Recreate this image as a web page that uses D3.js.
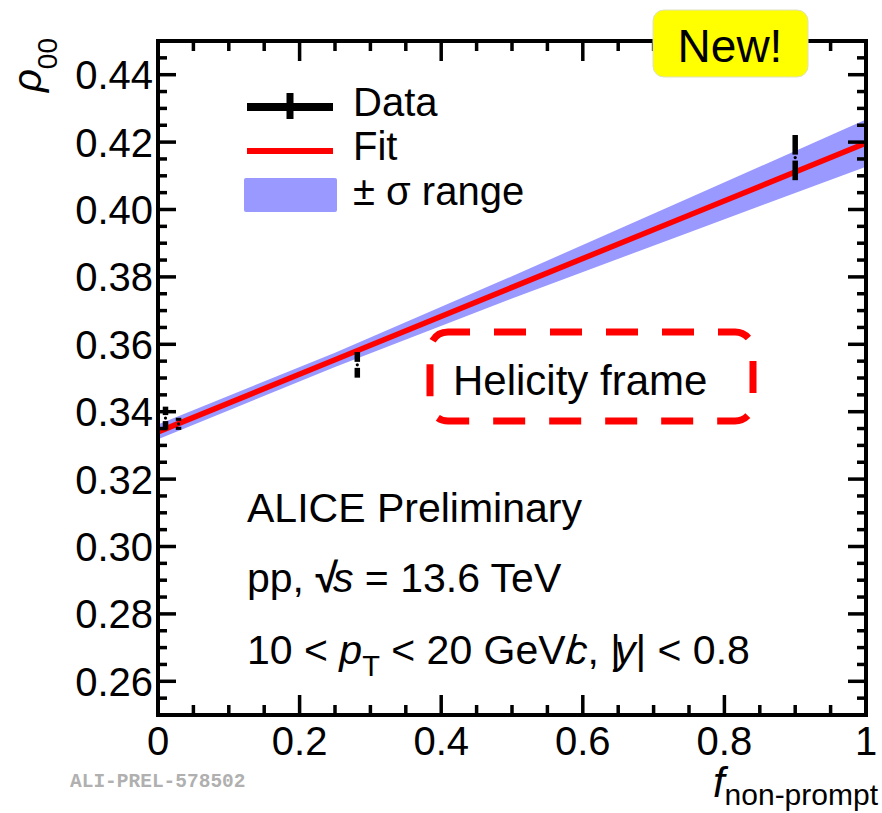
<!DOCTYPE html>
<html lang="en">
<head>
<meta charset="UTF-8">
<title>rho00 vs f non-prompt</title>
<script src="https://d3js.org/d3.v7.min.js"></script>
<style>
  body { margin: 0; background: #fff; }
  text { font-family: "Liberation Sans", Arial, sans-serif; fill: #000; }
</style>
</head>
<body>
<div id="chart"></div>
<script>
// data points (f_non-prompt, rho00, stat. error)
var fVals   = [0.0106, 0.029, 0.2815, 0.900];
var rhoVals = [0.3381, 0.3364, 0.3539, 0.4154];
var rhoErr  = [0.0034, 0.0018, 0.0038, 0.0067];

// fit line and +- sigma band, read at a few f values
var bandF  = [0, 0.25, 0.5, 0.75, 1];
var fitY   = [0.3340, 0.3554, 0.3769, 0.3983, 0.4197];
var bandLo = [0.3318, 0.3533, 0.3736, 0.3932, 0.4127];
var bandHi = [0.3362, 0.3575, 0.3802, 0.4034, 0.4267];

// tick labels
var xTicks = [0, 0.2, 0.4, 0.6, 0.8, 1];
var yTicks = [0.26, 0.28, 0.30, 0.32, 0.34, 0.36, 0.38, 0.40, 0.42, 0.44];

var W = 882, H = 813;
var margin = {top: 41, right: 16, bottom: 98, left: 158};
var width = W - margin.left - margin.right,
    height = H - margin.top - margin.bottom;

var svg = d3.select("#chart").append("svg")
    .attr("width", W).attr("height", H);
svg.append("rect").attr("width", W).attr("height", H).attr("fill", "#fff");

var g = svg.append("g")
    .attr("transform", "translate(" + margin.left + "," + margin.top + ")");

var x = d3.scaleLinear().domain([0, 1]).range([0, width]);
var y = d3.scaleLinear().domain([0.25, 0.45]).range([height, 0]);

// clip to frame
g.append("clipPath").attr("id", "clip")
  .append("rect").attr("x", -3).attr("y", 0).attr("width", width + 3).attr("height", height);

var band = bandF.map(function(d, i) { return {f: d, lo: bandLo[i], hi: bandHi[i], c: fitY[i]}; });

var plot = g.append("g").attr("clip-path", "url(#clip)");
plot.append("path")
  .datum(band)
  .attr("fill", "#9999ff")
  .attr("d", d3.area()
    .x(function(d) { return x(d.f); })
    .y0(function(d) { return y(d.lo); })
    .y1(function(d) { return y(d.hi); }));

plot.append("path")
  .datum(band)
  .attr("fill", "none")
  .attr("stroke", "#ff0000")
  .attr("stroke-width", 5.5)
  .attr("d", d3.line()
    .x(function(d) { return x(d.f); })
    .y(function(d) { return y(d.c); }));

// data points: vertical error bars with a gap around the marker
var pts = fVals.map(function(d, i) { return {f: d, v: rhoVals[i], e: rhoErr[i]}; });
var pg = g.append("g").selectAll("g").data(pts).enter().append("g");
pg.append("line")
  .attr("x1", function(d) { return x(d.f); }).attr("x2", function(d) { return x(d.f); })
  .attr("y1", function(d) { return y(d.v + d.e); }).attr("y2", function(d) { return y(d.v) - 3; })
  .attr("stroke", "#000").attr("stroke-width", 5.5);
pg.append("line")
  .attr("x1", function(d) { return x(d.f); }).attr("x2", function(d) { return x(d.f); })
  .attr("y1", function(d) { return y(d.v) + 3; }).attr("y2", function(d) { return y(d.v - d.e); })
  .attr("stroke", "#000").attr("stroke-width", 5.5);
pg.append("circle")
  .attr("cx", function(d) { return x(d.f); }).attr("cy", function(d) { return y(d.v); })
  .attr("r", 1.6).attr("fill", "#000");

// axes: ticks inside, mirrored on top and right
var xMinor = d3.range(0, 1.0001, 0.05), yMinor = d3.range(0.25, 0.4501, 0.005);
function isMajor(v, step) { return Math.abs(v / step - Math.round(v / step)) < 1e-6; }

var ticks = g.append("g").attr("stroke", "#000").attr("stroke-width", 3.5);
xMinor.forEach(function(v) {
  var len = isMajor(v, 0.2) ? 20 : 10;
  ticks.append("line").attr("x1", x(v)).attr("x2", x(v)).attr("y1", height).attr("y2", height - len);
  ticks.append("line").attr("x1", x(v)).attr("x2", x(v)).attr("y1", 0).attr("y2", len);
});
yMinor.forEach(function(v) {
  var len = isMajor(v, 0.02) ? 18 : 9;
  ticks.append("line").attr("y1", y(v)).attr("y2", y(v)).attr("x1", 0).attr("x2", len);
  ticks.append("line").attr("y1", y(v)).attr("y2", y(v)).attr("x1", width).attr("x2", width - len);
});

g.append("rect")
  .attr("width", width).attr("height", height)
  .attr("fill", "none").attr("stroke", "#000").attr("stroke-width", 4);

g.selectAll(".xl").data(xTicks).enter().append("text")
  .attr("x", function(d) { return x(d); })
  .attr("y", height + 40)
  .attr("text-anchor", "middle")
  .style("font-size", "40px")
  .text(function(d) { return d === 0 ? "0" : d === 1 ? "1" : d3.format(".1f")(d); });

g.selectAll(".yl").data(yTicks).enter().append("text")
  .attr("x", -5)
  .attr("y", function(d) { return y(d) + 14.5; })
  .attr("text-anchor", "end")
  .style("font-size", "40px")
  .text(function(d) { return d3.format(".2f")(d); });

// axis titles
var yt = svg.append("text")
  .attr("transform", "translate(41,38) rotate(-90)")
  .attr("text-anchor", "end")
  .style("font-size", "40px");
yt.append("tspan").style("font-style", "italic").text("\u03c1");
yt.append("tspan").attr("dy", 16).style("font-size", "28px").text("00");

var xt = svg.append("text")
  .attr("x", 878).attr("y", 797)
  .attr("text-anchor", "end")
  .style("font-size", "42px");
xt.append("tspan").style("font-style", "italic").text("f");
xt.append("tspan").attr("dy", 8).style("font-size", "30px").text("non-prompt");

// legend
var lg = svg.append("g");
lg.append("line").attr("x1", 247).attr("x2", 333).attr("y1", 107).attr("y2", 107)
  .attr("stroke", "#000").attr("stroke-width", 8);
lg.append("line").attr("x1", 290).attr("x2", 290).attr("y1", 93).attr("y2", 119)
  .attr("stroke", "#000").attr("stroke-width", 7);
lg.append("line").attr("x1", 247).attr("x2", 333).attr("y1", 151).attr("y2", 151)
  .attr("stroke", "#ff0000").attr("stroke-width", 6);
lg.append("rect").attr("x", 244).attr("y", 178).attr("width", 93).attr("height", 34)
  .attr("rx", 2).attr("fill", "#9999ff");
lg.append("text").attr("x", 353).attr("y", 116).style("font-size", "40px").text("Data");
lg.append("text").attr("x", 353).attr("y", 160).style("font-size", "40px").text("Fit");
lg.append("text").attr("x", 353).attr("y", 205).style("font-size", "40px").text("\u00b1 \u03c3 range");

// helicity frame box
svg.append("rect")
  .attr("x", 430).attr("y", 332).attr("width", 323).attr("height", 89)
  .attr("rx", 18)
  .attr("fill", "none").attr("stroke", "#ff0000").attr("stroke-width", 7)
  .attr("stroke-dasharray", "32,24").attr("stroke-dashoffset", 10);
svg.append("text").attr("x", 453).attr("y", 395).style("font-size", "42px").text("Helicity frame");

// ALICE labels
svg.append("text").attr("x", 247).attr("y", 522).style("font-size", "41px").text("ALICE Preliminary");
var t2 = svg.append("text").attr("x", 247).attr("y", 592).style("font-size", "41px");
t2.append("tspan").text("pp, ");
t2.append("tspan").style("font-weight", "bold").text("\u221a");
t2.append("tspan").attr("dx", -5).style("font-style", "italic").text("s");
t2.append("tspan").text(" = 13.6 TeV");
var t3 = svg.append("text").attr("x", 247).attr("y", 664).style("font-size", "41px");
t3.append("tspan").text("10 < ");
t3.append("tspan").style("font-style", "italic").text("p");
t3.append("tspan").attr("dy", 12).style("font-size", "29px").text("T");
t3.append("tspan").attr("dy", -12).text(" < 20 GeV/");
t3.append("tspan").attr("dx", -10).style("font-style", "italic").text("c");
t3.append("tspan").text(", |");
t3.append("tspan").attr("dx", -6).style("font-style", "italic").text("y");
t3.append("tspan").text("| < 0.8");

// New! badge
svg.append("rect")
  .attr("x", 653).attr("y", 10).attr("width", 155).attr("height", 67).attr("rx", 11)
  .attr("fill", "#ffff00").attr("stroke", "#e0e0c0").attr("stroke-width", 1);
svg.append("text").attr("x", 730).attr("y", 62).attr("text-anchor", "middle")
  .style("font-size", "46px").text("New!");

// preliminary id
svg.append("text").attr("x", 70).attr("y", 787)
  .style("font-family", "'Liberation Mono', 'DejaVu Sans Mono', monospace")
  .style("font-weight", "bold").style("font-size", "19.5px")
  .style("fill", "#b0b0b0")
  .text("ALI-PREL-578502");
</script>
</body>
</html>
